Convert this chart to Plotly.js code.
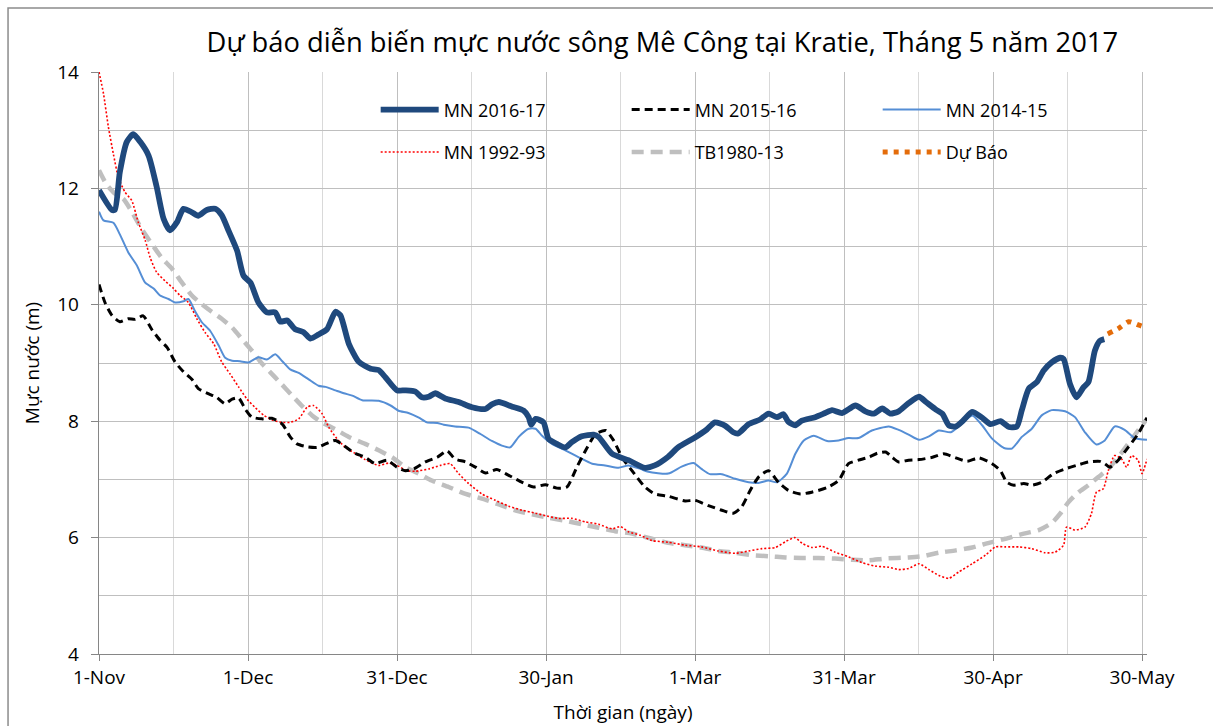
<!DOCTYPE html>
<html>
<head>
<meta charset="utf-8">
<script src="https://cdn.plot.ly/plotly-3.0.1.min.js"></script>
<style>html,body{margin:0;padding:0;background:#fff;}#chart{width:1213px;height:726px;}</style>
</head>
<body>
<div id="chart"></div>
<script>
// ---- tick labels (day offsets from 1-Nov-2016) ----
const tickDays = [0, 30, 60, 90, 120, 150, 180, 210];
const tickLabels = ['1-Nov', '1-Dec', '31-Dec', '30-Jan', '1-Mar', '31-Mar', '30-Apr', '30-May'];

// ---- MN 2016-17 ----
const days1617 = [0, 2.6, 3.2, 4.2, 5.6, 6.9, 8.3, 10, 11.6, 13,
  14.3, 15.7, 17, 18.7, 20, 21.7, 23.4, 24.7, 26.1, 27.8,
  29.1, 30.5, 32.1, 33.8, 35.5, 36.5, 37.9, 39.5, 41.2, 42.6,
  44.2, 45.9, 47.6, 48.6, 50.3, 52.3, 54.7, 56.3, 57.7, 60,
  61.7, 63.7, 65, 66.4, 67.7, 69.7, 72.4, 75.1, 77.8, 79.1,
  80.5, 83.2, 85.5, 86.5, 87, 87.9, 89.5, 90.5, 92.2, 93.9,
  95.2, 97.2, 99.6, 100.6, 103.3, 106.6, 109.9, 111.9, 114.6, 116.6,
  120, 122.4, 124, 126.1, 127.7, 128.7, 130.8, 133.1, 134.8, 136.5,
  137.8, 138.8, 140.2, 141.5, 144.2, 146.2, 147.6, 149.6, 152.3, 154.3,
  156, 157.7, 159.3, 161, 163, 165.1, 166.5, 168.5, 169.8, 171.1,
  172.5, 174.1, 175.8, 177.8, 179.5, 181.5, 183.2, 184.8, 185.8, 187.2,
  188.8, 190.2, 191.8, 193.5, 194.2, 195.5, 196.8, 198.2, 199.2, 200.5,
  201.5, 202.4];
const mn1617 = [11.97, 11.63, 11.63, 12.28, 12.80, 12.93, 12.80, 12.56, 12.03, 11.48,
  11.28, 11.42, 11.65, 11.59, 11.53, 11.63, 11.65, 11.54, 11.27, 10.93,
  10.50, 10.38, 10.04, 9.87, 9.87, 9.71, 9.73, 9.58, 9.53, 9.42,
  9.49, 9.58, 9.88, 9.82, 9.33, 9.02, 8.90, 8.88, 8.75, 8.53,
  8.53, 8.51, 8.41, 8.42, 8.48, 8.39, 8.33, 8.24, 8.21, 8.29,
  8.33, 8.25, 8.18, 8.07, 7.94, 8.04, 7.98, 7.70, 7.61, 7.55,
  7.64, 7.74, 7.77, 7.73, 7.44, 7.33, 7.20, 7.24, 7.39, 7.55,
  7.72, 7.86, 7.98, 7.92, 7.81, 7.79, 7.95, 8.03, 8.13, 8.07,
  8.12, 7.99, 7.93, 8.01, 8.07, 8.14, 8.19, 8.14, 8.27, 8.17,
  8.13, 8.22, 8.13, 8.17, 8.31, 8.42, 8.33, 8.20, 8.13, 7.93,
  7.91, 8.02, 8.16, 8.06, 7.95, 8.00, 7.90, 7.91, 8.19, 8.56,
  8.67, 8.87, 9.01, 9.09, 9.07, 8.64, 8.41, 8.58, 8.67, 9.21,
  9.38, 9.41];

// ---- MN 2015-16 ----
const days1516 = [0, 1.2, 2.6, 4.2, 5.9, 7.3, 8.9, 10.6, 12.3, 13.7,
  15.3, 17, 18.7, 20, 22.1, 23.7, 25.4, 26.8, 28.1, 29.5,
  30.8, 32.8, 34.8, 36.9, 38.5, 39.9, 41.9, 43.9, 45.6, 47.6,
  49.3, 51.3, 53.6, 55.6, 58, 60, 61.7, 63.4, 65.7, 68.1,
  70.1, 71.7, 73.8, 75.8, 77.8, 80.1, 82.5, 85.2, 87.5, 89.9,
  92.2, 94.2, 96.2, 98.3, 100, 102, 103.6, 105.3, 107.3, 109.9,
  111.9, 114.6, 118, 120, 122.7, 125.4, 127.7, 129.4, 131.1, 132.8,
  134.8, 136.8, 138.8, 141.2, 143.5, 146.6, 148.9, 150.9, 152.9, 155,
  156.7, 158.4, 159.7, 161, 163, 165.1, 167.8, 170.1, 172.5, 174.8,
  177.1, 179.8, 181.5, 182.8, 184.2, 186.2, 187.8, 189.8, 192.2, 194.5,
  196.8, 199.2, 201.5, 202.5, 203.5, 205.2, 207.2, 209.2, 211];
const mn1516 = [10.35, 10.04, 9.82, 9.71, 9.76, 9.75, 9.81, 9.58, 9.39, 9.27,
  9.02, 8.85, 8.72, 8.56, 8.47, 8.41, 8.30, 8.38, 8.40, 8.20,
  8.07, 8.04, 8.05, 7.95, 7.73, 7.61, 7.56, 7.55, 7.61, 7.67,
  7.58, 7.46, 7.38, 7.27, 7.33, 7.21, 7.15, 7.18, 7.30, 7.38,
  7.49, 7.35, 7.30, 7.21, 7.11, 7.17, 7.07, 6.95, 6.87, 6.91,
  6.85, 6.87, 7.21, 7.55, 7.78, 7.84, 7.67, 7.38, 7.15, 6.87,
  6.75, 6.71, 6.63, 6.64, 6.55, 6.47, 6.42, 6.53, 6.81, 7.04,
  7.15, 6.95, 6.81, 6.75, 6.78, 6.86, 6.98, 7.27, 7.33, 7.38,
  7.45, 7.47, 7.38, 7.30, 7.33, 7.34, 7.38, 7.44, 7.37, 7.31,
  7.37, 7.27, 7.15, 6.95, 6.90, 6.93, 6.90, 6.95, 7.10, 7.18,
  7.24, 7.30, 7.31, 7.27, 7.21, 7.33, 7.55, 7.78, 8.06];

// ---- MN 2014-15 ----
const days1415 = [0, 0.9, 2.9, 4.2, 5.9, 7.6, 9.3, 11, 12.3, 14,
  15.3, 17, 18, 19.4, 20.7, 22.4, 24.1, 25.4, 26.8, 28.4,
  30.1, 32.1, 33.8, 35.5, 36.9, 38.5, 40.2, 42.2, 44.2, 45.6,
  47.6, 49.3, 51, 53, 56.3, 58.7, 60.3, 62.3, 64.4, 66,
  68.1, 69.4, 71.7, 74.4, 76.8, 79.1, 81.1, 82.8, 84.5, 86.5,
  87.9, 89.2, 91.2, 93.9, 96.6, 99.3, 101.9, 104.6, 106.6, 109,
  110.6, 114.6, 117.3, 119.7, 121.3, 123, 125.4, 128.1, 130.8, 132.8,
  134.8, 136.5, 138.5, 140.2, 141.9, 143.9, 146.6, 148.9, 150.9, 152.9,
  155.6, 159, 161, 163, 165.1, 167.1, 169.1, 171.5, 173.5, 175.8,
  177.8, 179.8, 182.2, 183.8, 185.8, 187.8, 189.8, 191.8, 194.5, 196.5,
  198.5, 200.8, 202.5, 204.5, 206.5, 208.5, 211];
const mn1415 = [11.60, 11.45, 11.41, 11.21, 10.90, 10.68, 10.38, 10.28, 10.16, 10.10,
  10.04, 10.06, 10.10, 9.88, 9.70, 9.55, 9.30, 9.09, 9.04, 9.03,
  9.01, 9.10, 9.06, 9.15, 9.03, 8.89, 8.83, 8.72, 8.61, 8.59,
  8.53, 8.48, 8.44, 8.36, 8.35, 8.27, 8.18, 8.14, 8.06, 7.98,
  7.97, 7.94, 7.91, 7.89, 7.78, 7.66, 7.58, 7.55, 7.73, 7.87,
  7.87, 7.75, 7.61, 7.50, 7.38, 7.27, 7.24, 7.20, 7.24, 7.18,
  7.13, 7.10, 7.22, 7.28, 7.18, 7.09, 7.09, 7.01, 6.95, 6.94,
  6.98, 6.95, 7.10, 7.44, 7.67, 7.75, 7.66, 7.67, 7.71, 7.71,
  7.84, 7.91, 7.85, 7.77, 7.68, 7.74, 7.84, 7.81, 7.94, 8.10,
  7.93, 7.70, 7.54, 7.53, 7.73, 7.87, 8.10, 8.19, 8.17, 8.07,
  7.81, 7.60, 7.67, 7.91, 7.85, 7.71, 7.68];

// ---- MN 1992-93 ----
const days9293 = [0, 0.9, 1.9, 2.9, 3.9, 5.2, 6.6, 7.9, 9.3, 10.3,
  11.6, 13.3, 15, 16.3, 18, 19.7, 21.4, 23.1, 24.7, 26.4,
  28.1, 29.8, 31.5, 33.2, 35.2, 36.9, 38.5, 40.2, 41.9, 43.2,
  44.9, 46.3, 47.9, 49.6, 51.3, 53.6, 56.3, 58.3, 60, 62,
  63.7, 66.4, 68.7, 70.7, 72.4, 74.4, 77.1, 79.8, 82.5, 85.2,
  87.9, 90.2, 92.6, 95.2, 97.9, 100.6, 103.3, 105, 106.6, 109,
  111.3, 114.6, 118, 121.3, 124.7, 128.1, 130.8, 133.5, 136.2, 138.2,
  140.1, 141.6, 143.6, 145.6, 148.2, 150.9, 153.6, 156.3, 159, 161,
  163, 165.1, 167.1, 169.1, 171.1, 173.1, 175.8, 178.5, 180.5, 182.5,
  185.2, 187.8, 190.5, 192.5, 194.2, 194.8, 196.5, 198.5, 199.8, 200.8,
  202.2, 203.2, 204.5, 205.9, 206.9, 207.9, 209.2, 210, 211];
const mn9293 = [14.0, 13.63, 13.05, 12.59, 12.19, 11.94, 11.79, 11.42, 11.11, 10.81,
  10.56, 10.41, 10.28, 10.16, 10.04, 9.76, 9.52, 9.33, 9.02, 8.81,
  8.59, 8.38, 8.23, 8.10, 8.01, 7.98, 7.98, 8.04, 8.24, 8.27,
  8.13, 7.89, 7.70, 7.55, 7.46, 7.34, 7.24, 7.28, 7.24, 7.15,
  7.14, 7.18, 7.24, 7.27, 7.10, 6.93, 6.75, 6.64, 6.54, 6.47,
  6.42, 6.37, 6.33, 6.33, 6.27, 6.23, 6.15, 6.19, 6.10, 6.04,
  5.95, 5.92, 5.87, 5.84, 5.77, 5.73, 5.77, 5.81, 5.83, 5.93,
  6.00, 5.90, 5.83, 5.85, 5.75, 5.67, 5.57, 5.51, 5.49, 5.45,
  5.47, 5.55, 5.45, 5.35, 5.30, 5.41, 5.55, 5.70, 5.84, 5.84,
  5.84, 5.81, 5.74, 5.75, 5.87, 6.18, 6.13, 6.18, 6.41, 6.78,
  6.84, 7.15, 7.41, 7.35, 7.21, 7.41, 7.33, 7.10, 7.35];

// ---- TB1980-13 ----
const daysTB = [0, 1.5, 3.2, 4.9, 6.6, 8.6, 10.6, 12.6, 14.7, 16.7,
  18.7, 20.7, 22.7, 24.7, 26.8, 28.8, 30.8, 32.8, 34.5, 36.5,
  38.9, 40.9, 42.9, 44.9, 47.6, 50.3, 53.6, 56.3, 59, 61.7,
  64.4, 67, 70.4, 73.8, 77.1, 80.5, 83.8, 87.2, 90.5, 93.9,
  97.2, 100.6, 103.9, 107.3, 111.3, 114.6, 118, 121.3, 124.7, 128.1,
  131.4, 134.8, 138.2, 141.5, 144.9, 148.2, 151.6, 155, 158.3, 163,
  165.8, 169.1, 172.5, 175.8, 179.2, 182.5, 185.8, 189.2, 191.8, 193.5,
  195.2, 197.2, 199.2, 201.2, 203.2, 205.2, 207.2, 209.2, 211];
const tb8013 = [12.31, 12.07, 11.91, 11.82, 11.60, 11.30, 11.05, 10.81, 10.62, 10.38,
  10.16, 10.01, 9.88, 9.76, 9.61, 9.41, 9.21, 8.99, 8.84, 8.66,
  8.44, 8.26, 8.10, 7.98, 7.86, 7.73, 7.61, 7.50, 7.38, 7.21,
  7.10, 6.98, 6.87, 6.75, 6.67, 6.57, 6.47, 6.40, 6.34, 6.29,
  6.23, 6.17, 6.11, 6.07, 5.98, 5.91, 5.87, 5.83, 5.77, 5.74,
  5.70, 5.68, 5.66, 5.65, 5.65, 5.64, 5.62, 5.61, 5.64, 5.66,
  5.68, 5.74, 5.78, 5.83, 5.91, 5.98, 6.06, 6.13, 6.25, 6.41,
  6.61, 6.78, 6.90, 7.04, 7.18, 7.38, 7.61, 7.84, 8.04];

// ---- Dự Báo (forecast) ----
const daysFc = [203.1, 205.2, 207.3, 209.4, 210.4];
const forecast = [9.50, 9.59, 9.71, 9.65, 9.62];

const FONT = 'Open Sans, Noto Sans, DejaVu Sans, sans-serif';

function tr(name, x, y, color, width, dash, legend, rank) {
  return {
    type: 'scatter', mode: 'lines', name: name, x: x, y: y,
    line: {color: color, width: width, dash: dash, shape: 'spline', smoothing: 0.6},
    legend: legend, legendrank: rank, hoverinfo: 'x+y'
  };
}

const data = [
  tr('MN 2016-17', days1617, mn1617, '#1F497D', 5.8, 'solid', 'legend', 1),
  tr('MN 2015-16', days1516, mn1516, '#000000', 3, '8px,5px', 'legend', 2),
  tr('MN 2014-15', days1415, mn1415, '#558ED5', 2, 'solid', 'legend', 3),
  tr('MN 1992-93', days9293, mn9293, '#FF0000', 1.6, '2px,2px', 'legend2', 4),
  tr('TB1980-13', daysTB, tb8013, '#BFBFBF', 4.5, '12px,7px', 'legend2', 5),
  tr('Dự Báo', daysFc, forecast, '#E46C0A', 5, '5px,6px', 'legend2', 6)
];
// draw order: thin/background series first, main series on top
const order = [4, 3, 2, 1, 0, 5];
const plotData = order.map(i => data[i]);

const legendCommon = {
  orientation: 'h', xanchor: 'left', yanchor: 'middle',
  bgcolor: 'rgba(0,0,0,0)', borderwidth: 0,
  font: {family: FONT, size: 18, color: '#000'},
  entrywidth: 178, itemwidth: 58, traceorder: 'normal'
};

const layout = {
  width: 1213, height: 726,
  margin: {l: 99, r: 66, t: 72, b: 72},
  paper_bgcolor: '#ffffff', plot_bgcolor: '#ffffff',
  font: {family: FONT, color: '#000'},
  title: {
    text: 'Dự báo diễn biến mực nước sông Mê Công tại Kratie, Tháng 5 năm 2017',
    font: {family: FONT, size: 27.3, color: '#000'},
    x: 0.546, xref: 'container', xanchor: 'center',
    y: 0.942, yref: 'container', yanchor: 'middle'
  },
  xaxis: {
    range: [0, 211], tickmode: 'array', tickvals: tickDays, ticktext: tickLabels,
    showgrid: true, gridcolor: '#bfbfbf', gridwidth: 1,
    minor: {tickmode: 'linear', tick0: 0, dtick: 15, showgrid: true, gridcolor: '#d9d9d9', gridwidth: 1, ticks: ''},
    ticks: 'outside', ticklen: 6, tickcolor: '#868686', tickwidth: 1,
    showline: true, linecolor: '#868686', linewidth: 1.3, zeroline: false,
    tickfont: {family: FONT, size: 19, color: '#000'},
    title: {text: 'Thời gian (ngày)', font: {family: FONT, size: 19, color: '#000'}, standoff: 16},
    fixedrange: true
  },
  yaxis: {
    range: [4, 14], tick0: 0, dtick: 2,
    showgrid: true, gridcolor: '#bfbfbf', gridwidth: 1,
    minor: {tick0: 0, dtick: 1, showgrid: true, gridcolor: '#bfbfbf', gridwidth: 1, ticks: ''},
    ticks: 'outside', ticklen: 7, tickcolor: '#868686', tickwidth: 1,
    ticklabelstandoff: 8,
    showline: true, linecolor: '#868686', linewidth: 1.3, zeroline: false,
    tickfont: {family: FONT, size: 19, color: '#000'},
    title: {text: 'Mực nước (m)', font: {family: FONT, size: 19, color: '#000'}, standoff: 12},
    fixedrange: true
  },
  legend: Object.assign({}, legendCommon, {x: 0.264, y: 0.935}),
  legend2: Object.assign({}, legendCommon, {x: 0.264, y: 0.862}),
  shapes: [{
    type: 'rect', xref: 'paper', yref: 'paper',
    x0: -0.0868, x1: 1.08, y0: -0.15, y1: 1.11,
    line: {color: '#8c8c8c', width: 1.5}, fillcolor: 'rgba(0,0,0,0)', layer: 'below'
  }],
  showlegend: true
};

Plotly.newPlot('chart', plotData, layout, {displayModeBar: false, staticPlot: true});
</script>
</body>
</html>
